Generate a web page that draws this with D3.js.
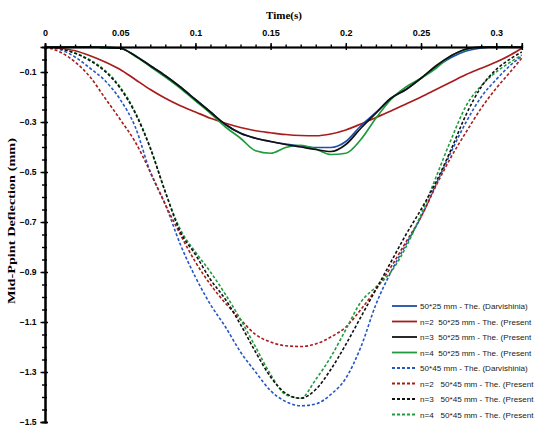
<!DOCTYPE html>
<html>
<head>
<meta charset="utf-8">
<script src="https://cdn.jsdelivr.net/npm/d3@7"></script>
<style>
  html, body { margin: 0; padding: 0; background: #fff; }
  svg { display: block; }
</style>
</head>
<body>
<svg id="chart" width="537" height="430"></svg>
<script>
// Time samples (s)
const time = [0, 0.01, 0.02, 0.03, 0.04, 0.05, 0.06, 0.07, 0.08, 0.09,
  0.10, 0.11, 0.12, 0.13, 0.14, 0.15, 0.16, 0.17, 0.18, 0.19,
  0.20, 0.21, 0.22, 0.23, 0.24, 0.25, 0.26, 0.27, 0.28, 0.29,
  0.30, 0.31, 0.317];

// Mid-point deflection (mm), 50*25 mm section
const darv25 = [0, 0, 0, 0, -0.002, -0.005, -0.035, -0.075, -0.115, -0.16,
  -0.21, -0.26, -0.31, -0.345, -0.365, -0.378, -0.388, -0.396, -0.402, -0.402,
  -0.378, -0.315, -0.262, -0.205, -0.17, -0.125, -0.08, -0.042, -0.016, -0.004,
  0, 0, 0];
const n2_25 = [0, -0.005, -0.015, -0.035, -0.06, -0.09, -0.13, -0.17, -0.205, -0.235,
  -0.26, -0.285, -0.305, -0.322, -0.335, -0.343, -0.35, -0.354, -0.355, -0.348,
  -0.332, -0.308, -0.282, -0.256, -0.228, -0.2, -0.17, -0.14, -0.11, -0.085,
  -0.06, -0.03, -0.005];
const n3_25 = [0, 0, 0, 0, -0.002, -0.005, -0.035, -0.075, -0.115, -0.16,
  -0.21, -0.26, -0.31, -0.345, -0.365, -0.378, -0.39, -0.40, -0.41, -0.418,
  -0.39, -0.325, -0.265, -0.205, -0.17, -0.125, -0.075, -0.035, -0.008, 0,
  0, 0, 0];
const n4_25 = [0, 0, 0, 0, -0.002, -0.005, -0.037, -0.078, -0.12, -0.165,
  -0.215, -0.265, -0.32, -0.365, -0.415, -0.425, -0.402, -0.393, -0.408, -0.43,
  -0.425, -0.37, -0.285, -0.21, -0.16, -0.125, -0.085, -0.035, -0.01, 0,
  0, 0, 0];

// Mid-point deflection (mm), 50*45 mm section
const darv45 = [0, -0.01, -0.04, -0.085, -0.135, -0.21, -0.32, -0.50, -0.63, -0.79,
  -0.92, -1.03, -1.12, -1.22, -1.30, -1.375, -1.418, -1.435, -1.428, -1.39,
  -1.325, -1.20, -1.03, -0.9, -0.79, -0.68, -0.55, -0.42, -0.3, -0.2,
  -0.13, -0.07, -0.036];
const n2_45 = [0, -0.02, -0.06, -0.12, -0.205, -0.29, -0.38, -0.5, -0.63, -0.75,
  -0.86, -0.95, -1.025, -1.09, -1.15, -1.18, -1.195, -1.198, -1.188, -1.16,
  -1.12, -1.05, -0.97, -0.88, -0.78, -0.68, -0.555, -0.44, -0.34, -0.245,
  -0.165, -0.095, -0.044];
const n3_45 = [0, -0.006, -0.025, -0.055, -0.098, -0.165, -0.265, -0.405, -0.58, -0.74,
  -0.83, -0.93, -1.01, -1.11, -1.22, -1.32, -1.385, -1.405, -1.37, -1.29,
  -1.19, -1.08, -0.97, -0.86, -0.75, -0.65, -0.54, -0.41, -0.27, -0.16,
  -0.09, -0.045, -0.02];
const n4_45 = [0, -0.006, -0.024, -0.052, -0.094, -0.16, -0.26, -0.402, -0.58, -0.73,
  -0.82, -0.9, -0.99, -1.09, -1.2, -1.31, -1.39, -1.405, -1.33, -1.24,
  -1.13, -1.02, -0.96, -0.9, -0.8, -0.67, -0.52, -0.37, -0.235, -0.155,
  -0.1, -0.058, -0.032];

// Axis ticks
const xTicks = [0, 0.05, 0.1, 0.15, 0.2, 0.25, 0.3];
const yTicks = [-0.1, -0.3, -0.5, -0.7, -0.9, -1.1, -1.3, -1.5];

const series = [
  { name: "50*45 mm - The. (Darvishinia)",    values: darv45, color: "#2456c4", dashed: true },
  { name: "n=2   50*45 mm - The. (Present",    values: n2_45,  color: "#a81c1c", dashed: true },
  { name: "n=4   50*45 mm - The. (Present",    values: n4_45,  color: "#1f9b3c", dashed: true },
  { name: "n=3   50*45 mm - The. (Present",    values: n3_45,  color: "#111111", dashed: true },
  { name: "n=2  50*25 mm - The. (Present",     values: n2_25,  color: "#a81c1c", dashed: false },
  { name: "50*25 mm - The. (Darvishinia)",     values: darv25, color: "#1f4fa8", dashed: false },
  { name: "n=4  50*25 mm - The. (Present",     values: n4_25,  color: "#1f9b3c", dashed: false },
  { name: "n=3  50*25 mm - The. (Present",     values: n3_25,  color: "#111111", dashed: false }
];
const legendOrder = [5, 4, 7, 6, 0, 1, 3, 2];

const svg = d3.select("#chart");
const x = d3.scaleLinear().domain([0, 0.317]).range([45, 521.8]);
const y = d3.scaleLinear().domain([0, -1.5]).range([47, 422]);

// Curves
const line = d3.line()
  .x((d, i) => x(time[i]))
  .y(d => y(d))
  .curve(d3.curveMonotoneX);

svg.append("g").selectAll("path")
  .data(series)
  .join("path")
  .attr("d", d => line(d.values))
  .attr("fill", "none")
  .attr("stroke", d => d.color)
  .attr("stroke-width", d => d.dashed ? 1.6 : 1.7)
  .attr("stroke-dasharray", d => d.dashed ? "3,2" : null);

// X axis along the top edge
const tickFont = "Liberation Sans, Arial, sans-serif";
const minorX = d3.range(0, 0.3171, 0.01);
const gx = svg.append("g").attr("transform", `translate(0,${y(0)})`);
gx.append("g").call(d3.axisTop(x).tickValues(minorX).tickSize(2.5).tickFormat(""));
gx.append("g").call(d3.axisTop(x).tickValues(xTicks).tickSize(4).tickPadding(7)
  .tickFormat(d => d === 0 ? "0" : d3.format("")(d)));
gx.append("g").call(d3.axisBottom(x).tickValues(xTicks).tickSize(3).tickFormat(""));
gx.selectAll("path.domain").attr("stroke", "#000").attr("stroke-width", 1.6);
gx.selectAll("line").attr("stroke", "#000").attr("stroke-width", 1.4);
gx.selectAll("text").attr("font-family", tickFont).attr("font-weight", "bold")
  .attr("font-size", 9).attr("fill", "#000");

// Y axis along the left edge
const minorY = d3.range(0, -1.5001, -0.05);
const gy = svg.append("g").attr("transform", `translate(${x(0)},0)`);
gy.append("g").call(d3.axisLeft(y).tickValues(minorY).tickSize(3).tickFormat(""));
gy.append("g").call(d3.axisRight(y).tickValues(minorY).tickSize(2).tickFormat(""));
gy.append("g").call(d3.axisLeft(y).tickValues(yTicks).tickSize(4.5).tickPadding(4)
  .tickFormat(d3.format(".1f")));
gy.append("g").call(d3.axisRight(y).tickValues(yTicks).tickSize(3).tickFormat(""));
gy.selectAll("path.domain").attr("stroke", "#000").attr("stroke-width", 1.6);
gy.selectAll("line").attr("stroke", "#000").attr("stroke-width", 1.4);
gy.selectAll("text").attr("font-family", tickFont).attr("font-weight", "bold")
  .attr("font-size", 8.5).attr("fill", "#000");

// Axis titles
svg.append("text")
  .attr("x", 284).attr("y", 19)
  .attr("text-anchor", "middle")
  .attr("font-family", "Liberation Serif, Times New Roman, serif")
  .attr("font-weight", "bold").attr("font-size", 11)
  .text("Time(s)");

svg.append("text")
  .attr("transform", "translate(15,221) rotate(-90)")
  .attr("text-anchor", "middle")
  .attr("font-family", "Liberation Serif, Times New Roman, serif")
  .attr("font-weight", "bold").attr("font-size", 11)
  .attr("textLength", 166).attr("lengthAdjust", "spacingAndGlyphs")
  .text("Mid-Ppint Deflection (mm)");

// Legend
const lg = svg.append("g");
legendOrder.forEach((si, row) => {
  const s = series[si];
  const yy = 306 + row * 15.5;
  lg.append("line")
    .attr("x1", 392).attr("x2", 417).attr("y1", yy).attr("y2", yy)
    .attr("stroke", s.color).attr("stroke-width", 1.8)
    .attr("stroke-dasharray", s.dashed ? "3,2" : null);
  lg.append("text")
    .attr("x", 420).attr("y", yy + 3)
    .attr("font-family", tickFont).attr("font-size", 8.1)
    .attr("fill", "#222")
    .style("white-space", "pre")
    .text(s.name);
});
</script>
</body>
</html>
